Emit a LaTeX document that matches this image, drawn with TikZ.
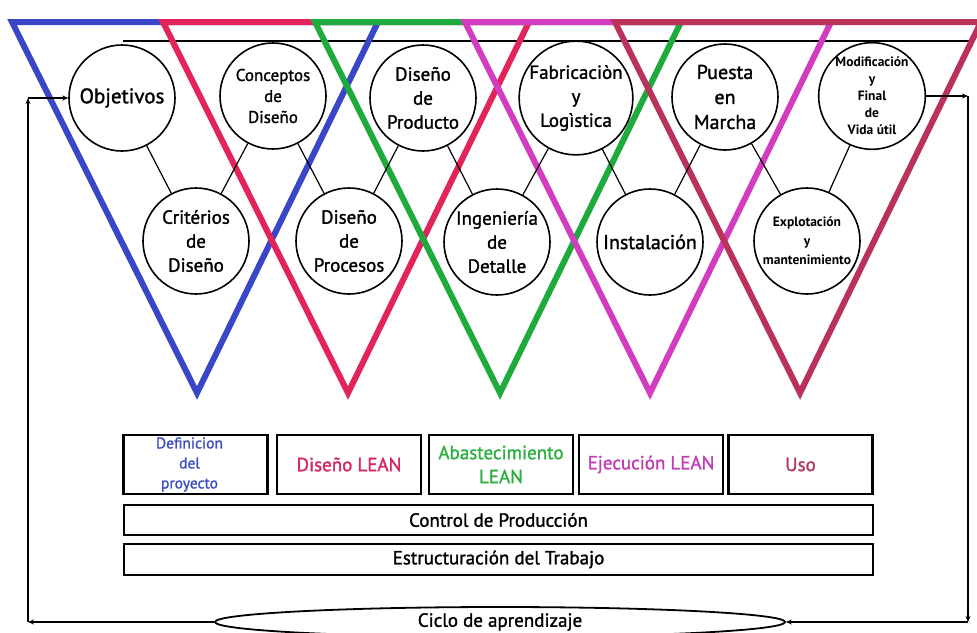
\documentclass[tikz,border=0pt]{standalone}
\usepackage{fontspec}
\setmainfont{PT Sans}[UprightFeatures={FakeBold=1.4}]
\usetikzlibrary{arrows.meta,shapes.geometric}

\definecolor{vblue}{HTML}{3A46C8}
\definecolor{vred}{HTML}{E2245A}
\definecolor{vgreen}{HTML}{1EAA3C}
\definecolor{vmag}{HTML}{D23CBE}
\definecolor{vmar}{HTML}{B9325A}
\definecolor{tblue}{HTML}{3D4FC0}
\definecolor{tred}{HTML}{D6285E}
\definecolor{tgreen}{HTML}{2DB040}
\definecolor{tmag}{HTML}{C23CB4}
\definecolor{tmar}{HTML}{B23A5E}

\tikzset{
  vee/.style={line width=6pt, line join=miter},
  bub/.style={circle, draw, fill=white, line width=1.6pt, minimum size=106pt,
    inner sep=0pt, align=center},
  link/.style={line width=1.2pt},
  phase/.style={draw, line width=2.2pt, inner sep=0pt, align=center,
    minimum width=144pt, minimum height=59pt},
  band/.style={draw, line width=2.2pt, inner sep=0pt, align=center,
    minimum width=749pt, minimum height=30pt},
  loop/.style={line width=1.8pt, -{Stealth[length=6pt,width=5pt]}},
  big/.style={font=\fontsize{19}{24}\selectfont},
}

\begin{document}
\begin{tikzpicture}[x=1pt, y=-1pt]
\useasboundingbox (0,0) rectangle (977,632);
\clip (0,0) rectangle (977,632);
\fill[white] (0,0) rectangle (977,632);

% thin rail tangent to the upper row of bubbles
\draw[line width=1.5pt] (123,41) -- (970,41);

% the five V phases
\foreach \col/\ax in {vblue/197, vred/348, vgreen/500, vmag/650, vmar/800}
  \draw[vee, \col] (\ax-185,22) -- (\ax+181,22) -- (\ax,393) -- cycle;

% upper row of bubbles
\node[bub, font=\fontsize{21}{25}\selectfont] (obj) at (122,98) {Objetivos};
\node[bub, font=\fontsize{17}{21}\selectfont] (con) at (273,96) {Conceptos\\de\\Diseño};
\node[bub, big] (prod) at (423,98) {Diseño\\de\\Producto};
\node[bub, big] (fab) at (576,98) {Fabricaciòn\\y\\Logìstica};
\node[bub, font=\fontsize{20}{25}\selectfont] (pue) at (725,97) {Puesta\\en\\Marcha};
\node[bub, font=\fontsize{13.5}{17}\selectfont\bfseries] (mod) at (872,96) {Modificación\\y\\Final\\de\\Vida útil};

% lower row of bubbles
\node[bub, big] (cri) at (196,241) {Critérios\\de\\Diseño};
\node[bub, big] (proc) at (349,241) {Diseño\\de\\Procesos};
\node[bub, big] (ing) at (497,242) {Ingeniería\\de\\Detalle};
\node[bub, font=\fontsize{20}{24}\selectfont] (ins) at (650,242) {Instalación};
\node[bub, font=\fontsize{13.5}{19}\selectfont\bfseries] (exp) at (807,241) {Explotación\\y\\mantenimiento};

% zigzag links
\draw[link] (obj) -- (cri);
\draw[link] (cri) -- (con);
\draw[link] (con) -- (proc);
\draw[link] (proc) -- (prod);
\draw[link] (prod) -- (ing);
\draw[link] (ing) -- (fab);
\draw[link] (fab) -- (ins);
\draw[link] (ins) -- (pue);
\draw[link] (pue) -- (exp);
\draw[link] (exp) -- (mod);

% phase boxes
\node[phase, text=tblue, font=\fontsize{15.5}{20}\selectfont] (p1) at (195.5,464.5) {\hspace*{-12pt}Definicion\\\hspace*{-12pt}del\\\hspace*{-12pt}proyecto};
\node[phase, text=tred, big] (p2) at (349,464.5) {Diseño LEAN};
\node[phase, text=tgreen, big] (p3) at (501,464.5) {Abastecimiento\\LEAN};
\node[phase, text=tmag, big] (p4) at (651,464.5) {Ejecución LEAN};
\node[phase, text=tmar, big] (p5) at (800.5,464.5) {Uso};

\node[band, big] (ctrl) at (498.5,520) {Control de Producción};
\node[band, big, minimum height=31pt] (estr) at (498.5,559.5) {Estructuración del Trabajo};

% learning cycle
\node[ellipse, draw, line width=1.8pt, minimum width=570pt, minimum height=30pt,
  inner sep=0pt, big] (ciclo) at (500,622) {Ciclo de aprendizaje};

\coordinate (lb) at (28,622);
\coordinate (lt) at (28,98);
\coordinate (rb) at (968,622);

\draw[loop] (mod.east) -- (mod.east -| rb);
\draw[loop] (mod.east -| rb) -- (rb);
\draw[loop] (rb) -- (ciclo.east);
\draw[loop] (ciclo.west) -- (lb);
\draw[loop] (lb) -- (lt);
\draw[loop] (lt) -- (obj.west);
\end{tikzpicture}
\end{document}
